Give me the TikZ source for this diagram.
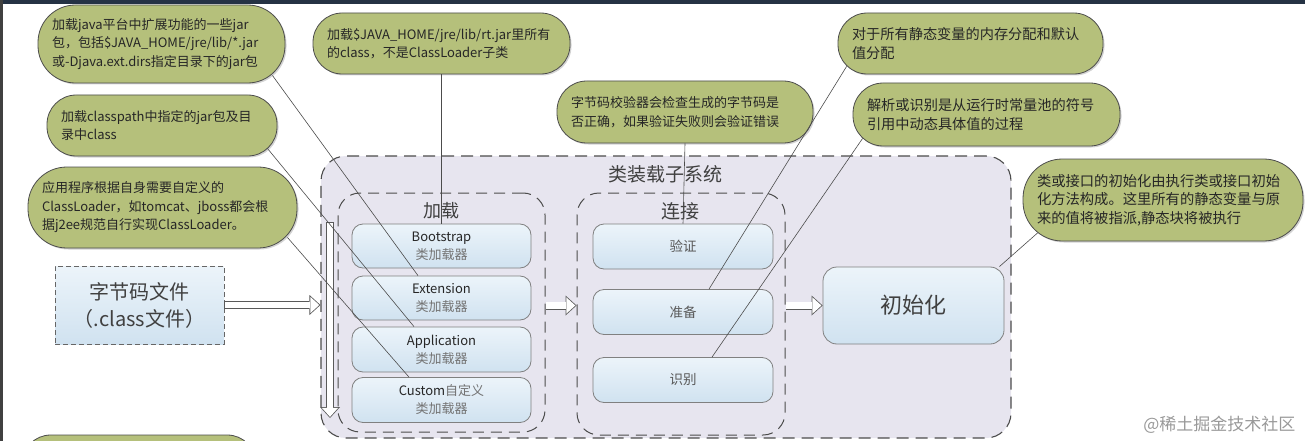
\documentclass[tikz,border=0pt]{standalone}
\usepackage{fontspec}
\setmainfont{Noto Sans CJK SC}
\usetikzlibrary{arrows.meta,shadows}

\definecolor{notegreen}{RGB}{181,192,123}
\definecolor{systemgray}{RGB}{231,229,239}
\definecolor{boxtop}{RGB}{236,244,250}
\definecolor{boxbottom}{RGB}{208,226,240}
\definecolor{frameblue}{RGB}{37,50,68}

\tikzset{
  note/.style 2 args={draw=black!70, line width=0.8pt, fill=notegreen, align=left,
    text width=#1pt, minimum height=#2pt, rounded corners=#2*0.48pt,
    inner xsep=14pt, inner ysep=0pt, text=black!85,
    font=\fontsize{13}{18.5}\selectfont,
    drop shadow={opacity=0.35, shadow xshift=1.5pt, shadow yshift=-1.5pt}},
  group/.style={draw=black!70, line width=1pt, dash pattern=on 11pt off 7pt, rounded corners=22pt},
  title/.style={text=black!75, font=\fontsize{19}{22}\selectfont},
  loader/.style={draw=black!50, line width=0.8pt, top color=boxtop, bottom color=boxbottom,
    rounded corners=11pt, minimum width=179pt, align=center, text=black!85,
    font=\fontsize{13}{18}\selectfont},
  phase/.style={loader, minimum width=180pt, minimum height=45pt, text=black!65,
    font=\fontsize{13.5}{16}\selectfont},
  wire/.style={draw=black!70, line width=0.6pt},
  arrowout/.style={draw=black!65, line width=8pt, -{Triangle[length=11pt, width=20pt, line width=0pt]}},
  arrowin/.style={draw=white, line width=6.4pt, shorten >=1.2pt, shorten <=0.8pt,
    -{Triangle[length=9pt, width=16.4pt, line width=0pt]}}
}

\begin{document}
\begin{tikzpicture}[x=1pt,y=-1pt]
  \useasboundingbox (0,0) rectangle (1305,441);
  \clip (0,0) rectangle (1305,441);
  \fill[frameblue] (0,0) rectangle (1305,4);
  \fill[black!75] (0,0) rectangle (3,441);

  % class loader subsystem
  \node[group, fill=systemgray, minimum width=690pt, minimum height=282pt, rounded corners=25pt,
    line width=1.1pt, dash pattern=on 12pt off 7pt] (sys) at (666,297) {};
  \node[title] (systitle) at (665,174) {类装载子系统};
  \node[group, minimum width=207pt, minimum height=239pt] (load) at (441.5,312.5) {};
  \node[title, font=\fontsize{18}{22}\selectfont] (loadtitle) at (441.5,211) {加载};
  \node[group, minimum width=208pt, minimum height=242pt] (link) at (681,314) {};
  \node[title] (linktitle) at (680,211) {连接};

  \node[loader, minimum height=44pt] (boot) at (441.5,246) {Bootstrap\\{\color{black!55}类加载器}};
  \node[loader, minimum height=44pt] (ext) at (441.5,298) {Extension\\{\color{black!55}类加载器}};
  \node[loader, minimum height=45pt] (app) at (441.5,349.5) {Application\\{\color{black!55}类加载器}};
  \node[loader, minimum height=45pt] (cust) at (441.5,400) {Custom{\color{black!55}自定义}\\{\color{black!55}类加载器}};

  \node[phase] (ver) at (683,246.5) {验证};
  \node[phase] (prep) at (683,312) {准备};
  \node[phase] (res) at (683,380) {识别};

  \node[loader, minimum width=181pt, minimum height=77pt, rounded corners=14pt, text=black!75,
    font=\fontsize{22}{26}\selectfont] (init) at (913.5,305.5) {初始化};

  \node[draw=black!60, line width=0.9pt, dash pattern=on 5pt off 3pt, top color=boxtop, bottom color=boxbottom,
    minimum width=169pt, minimum height=78pt, align=center, text=black!75,
    font=\fontsize{20}{27}\selectfont] (code) at (139.5,305) {字节码文件\\（.class文件）};

  \coordinate (vtop) at (330,222);
  \coordinate (vbot) at (330,418);

  \foreach \from/\to in {code.east/code.east -| sys.west, load.east |- init.west/link.west |- init.west,
      link.east |- init.west/init.west, vtop/vbot} {
    \draw[arrowout] (\from) -- (\to);
    \draw[arrowin] (\from) -- (\to);
  }

  % notes
  \node[note={219}{78}] (cext) at (161.5,44)
    {加载java平台中扩展功能的一些jar\\包，包括\$JAVA\_HOME/jre/lib/*.jar\\或-Djava.ext.dirs指定目录下的jar包};
  \node[note={202}{61}] (capp) at (162,125.5) {加载classpath中指定的jar包及目\\录中class};
  \node[note={241}{81}] (ccust) at (162.5,207.5)
    {应用程序根据自身需要自定义的\\ClassLoader，如tomcat、jboss都会根\\据j2ee规范自行实现ClassLoader。};
  \node[note={206}{60}] (cmore) at (139,465) {};
  \node[note={229}{61}] (cboot) at (441.5,43.5) {加载\$JAVA\_HOME/jre/lib/rt.jar里所有\\的class，不是ClassLoader子类};
  \node[note={228}{62}] (cver) at (685,112) {字节码校验器会检查生成的字节码是\\否正确，如果验证失败则会验证错误};
  \node[note={237}{61}, font=\fontsize{14.2}{19}\selectfont] (cprep) at (970.5,43.5) {对于所有静态变量的内存分配和默认\\值分配};
  \node[note={239}{63}, font=\fontsize{14.2}{19}\selectfont] (cres) at (986.5,114.5) {解析或识别是从运行时常量池的符号\\引用中动态具体值的过程};
  \node[note={252}{82}, font=\fontsize{14.3}{18.5}\selectfont] (cinit) at (1163,200)
    {类或接口的初始化由执行类或接口初始\\化方法构成。这里所有的静态变量与原\\来的值将被指派,静态块将被执行};

  \draw[wire] ([shift={(-13,-8)}]cext.south east) -- ([shift={(-23.5,0)}]ext.north);
  \draw[wire] ([shift={(-10,-8)}]capp.south east) -- ([shift={(-27.5,0)}]app.north);
  \draw[wire] ([shift={(-10,-11)}]ccust.south east) -- ([shift={(-32.5,0)}]cust.north);
  \draw[wire] (cboot.south) -- (boot.north);
  \draw[wire] (cver.south) -- (ver.north);
  \draw[wire] ([shift={(9,-8)}]cprep.south west) -- ([shift={(26,0)}]prep.north);
  \draw[wire] ([shift={(10,-8)}]cres.south west) -- ([shift={(29,0)}]res.north);
  \draw[wire] ([shift={(15,-8.5)}]cinit.south west) -- ([shift={(-5,0)}]init.north east);

  \node[anchor=east, text=black!40, font=\fontsize{17}{20}\selectfont] (mark) at (1299,425) {@稀土掘金技术社区};
\end{tikzpicture}
\end{document}
